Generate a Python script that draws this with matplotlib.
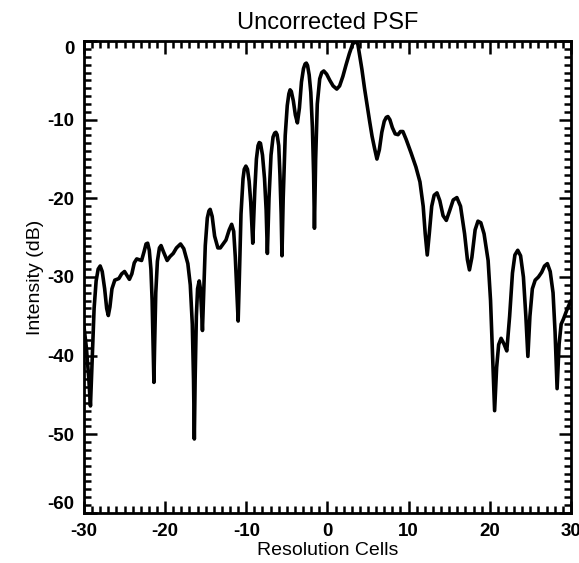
import matplotlib.pyplot as plt
from matplotlib.ticker import MultipleLocator

# punkty (komorki rozdzielczosci, dB)
cells = [
    -30.0, -29.7, -29.4, -29.2, -29.0, -28.75, -28.5, -28.25, -28.0, -27.75,
    -27.45, -27.2, -27.0, -26.8, -26.55, -26.2, -25.7, -25.35, -25.0, -24.7,
    -24.4, -24.1, -23.8, -23.5, -22.9, -22.6, -22.35, -22.15, -21.95, -21.75,
    -21.6, -21.45, -21.38, -21.3, -21.15, -20.95, -20.7, -20.5, -20.2, -19.75,
    -19.4, -19.0, -18.6, -18.1, -17.7, -17.2, -16.9, -16.65, -16.5, -16.4,
    -16.3, -16.15, -16.0, -15.8, -15.65, -15.5, -15.4, -15.25, -15.05, -14.8,
    -14.6, -14.45, -14.2, -13.9, -13.5, -13.2, -12.5, -12.1, -11.8, -11.55,
    -11.35, -11.15, -11.0, -10.85, -10.65, -10.4, -10.25, -10.05, -9.85, -9.65,
    -9.45, -9.2, -8.95, -8.75, -8.55, -8.4, -8.25, -8.0, -7.75, -7.55,
    -7.4, -7.2, -6.95, -6.7, -6.5, -6.35, -6.2, -6.0, -5.85, -5.7,
    -5.6, -5.45, -5.2, -4.95, -4.75, -4.6, -4.45, -4.2, -3.95, -3.7,
    -3.45, -3.2, -2.95, -2.75, -2.6, -2.45, -2.25, -2.05, -1.85, -1.7,
    -1.6, -1.45, -1.25, -0.95, -0.7, -0.45, -0.1, 0.3, 0.7, 1.15,
    1.5, 1.9, 2.3, 2.7, 3.1, 3.45, 3.75, 3.95, 4.25, 4.57,
    4.9, 5.2, 5.5, 5.8, 6.1, 6.4, 6.7, 7.0, 7.25, 7.45,
    7.7, 8.0, 8.35, 8.7, 9.0, 9.3, 9.7, 10.3, 10.9, 11.4,
    11.8, 12.05, 12.3, 12.55, 12.85, 13.15, 13.5, 13.85, 14.25, 14.65,
    15.05, 15.5, 15.95, 16.4, 16.9, 17.25, 17.5, 17.8, 18.2, 18.55,
    18.9, 19.3, 19.8, 20.1, 20.35, 20.6, 20.85, 21.1, 21.4, 21.75,
    22.1, 22.45, 22.8, 23.1, 23.45, 23.8, 24.15, 24.45, 24.7, 24.95,
    25.25, 25.6, 26.0, 26.4, 26.75, 27.1, 27.45, 27.8, 28.05, 28.3,
    28.55, 28.8, 29.1, 29.5, 30.0,
]
intensity_db = [
    -36.3, -39.0, -43.0, -46.4, -41.0, -34.0, -30.5, -29.0, -28.6, -29.3,
    -31.5, -34.0, -34.9, -33.8, -31.5, -30.4, -30.2, -29.6, -29.3, -29.8,
    -30.3, -29.6, -28.2, -27.7, -27.9, -26.8, -25.8, -25.7, -26.6, -29.0,
    -33.0, -40.0, -43.4, -39.0, -32.0, -28.0, -26.3, -26.0, -26.8, -27.9,
    -27.4, -27.0, -26.3, -25.8, -26.4, -28.3, -31.0, -36.0, -43.0, -50.6,
    -43.0, -35.0, -31.5, -30.5, -31.5, -34.5, -36.8, -32.0, -26.0, -22.5,
    -21.6, -21.4, -22.3, -24.8, -26.3, -26.3, -25.3, -24.0, -23.3, -24.2,
    -27.5, -32.0, -35.6, -30.0, -22.0, -17.5, -16.3, -15.9, -16.3, -17.8,
    -20.5, -25.7, -19.0, -15.0, -13.3, -12.9, -13.0, -14.5, -17.5, -21.5,
    -27.0, -20.0, -14.5, -12.2, -11.7, -11.6, -11.9, -13.3, -17.0, -22.0,
    -27.3, -20.0, -12.0, -8.2, -6.7, -6.2, -6.4, -7.6, -9.4, -10.4,
    -8.5, -5.2, -3.5, -2.9, -2.8, -3.1, -4.3, -6.5, -11.0, -17.0,
    -23.8, -15.0, -8.0, -4.8, -4.0, -3.8, -4.2, -5.0, -5.7, -6.1,
    -5.7, -4.5, -3.0, -1.6, -0.4, 0.0, -0.4, -1.7, -3.6, -6.0,
    -8.2, -10.2, -12.1, -13.6, -15.0, -13.8, -11.6, -10.2, -9.7, -9.6,
    -10.0, -11.0, -11.8, -11.9, -11.5, -11.5, -12.5, -14.2, -16.0, -17.9,
    -21.0, -24.5, -27.2, -24.5, -21.0, -19.6, -19.3, -20.3, -22.2, -22.8,
    -21.6, -20.2, -19.9, -21.0, -24.5, -27.8, -29.1, -27.5, -24.0, -22.9,
    -23.1, -24.5, -27.9, -33.0, -40.0, -47.0, -41.5, -38.6, -37.8, -38.5,
    -39.4, -35.0, -29.5, -27.2, -26.6, -27.3, -30.0, -35.0, -40.1, -35.0,
    -31.5, -30.4, -30.0, -29.4, -28.6, -28.3, -29.3, -32.0, -37.0, -44.2,
    -38.5, -36.0, -35.3, -34.2, -33.0,
]

plt.rcParams['font.family'] = ['Liberation Sans', 'DejaVu Sans']
plt.rcParams['axes.unicode_minus'] = False

fig = plt.figure(figsize=(5.79, 5.63), dpi=100)
ax = fig.add_axes([0.145, 0.089, 0.841, 0.838])

ax.plot(cells, intensity_db, color='black', linewidth=2.6,
        solid_joinstyle='round', solid_capstyle='round')

ax.set_xlim(-30, 30)
ax.set_ylim(-60, 0)
ax.xaxis.set_major_locator(MultipleLocator(10))
ax.xaxis.set_minor_locator(MultipleLocator(1))
ax.yaxis.set_major_locator(MultipleLocator(10))
ax.yaxis.set_minor_locator(MultipleLocator(1))

ax.tick_params(which='both', direction='in', top=True, right=True, width=1.8, colors='black')
ax.tick_params(which='major', length=9, pad=7)
ax.tick_params(which='minor', length=5)
ax.tick_params(axis='both', labelsize=13.5)

for sp in ax.spines.values():
    sp.set_linewidth(2)

ax.set_title('Uncorrected PSF', fontsize=17, pad=9)
ax.set_xlabel('Resolution Cells', fontsize=14, labelpad=2)
ax.set_ylabel('Intensity (dB)', fontsize=14, labelpad=2)

fig.canvas.draw()
for lab in ax.get_xticklabels() + ax.get_yticklabels():
    lab.set_fontweight('bold')
# skrajne etykiety osi Y przesuniete do srodka (jak w IDL)
for tick in ax.yaxis.get_major_ticks():
    if abs(tick.get_loc() - 0) < 1e-6:
        tick.label1.set_verticalalignment('top')
    elif abs(tick.get_loc() + 60) < 1e-6:
        tick.label1.set_verticalalignment('bottom')

fig.savefig('out.png', dpi=100)
